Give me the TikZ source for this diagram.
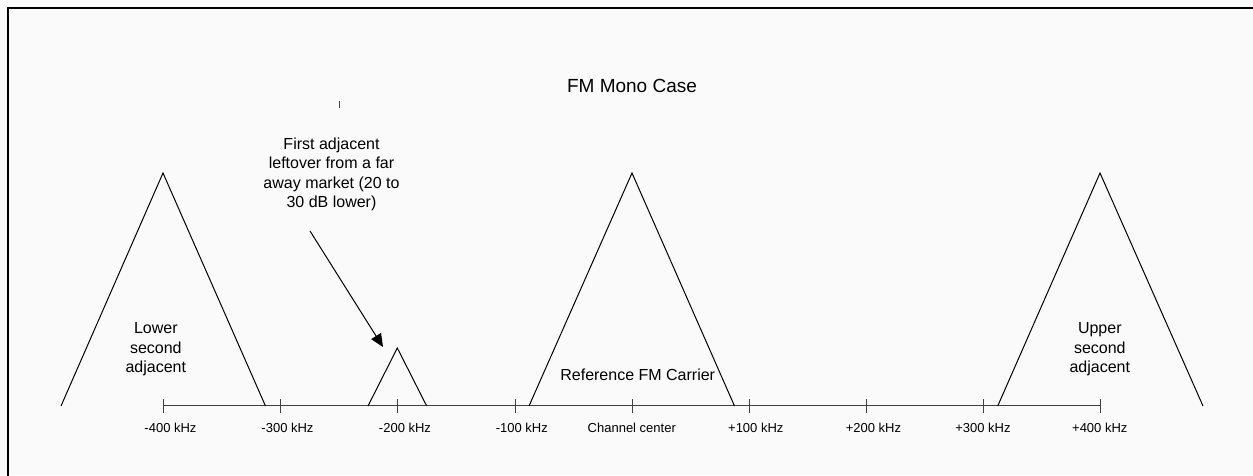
\documentclass[tikz,border=0pt]{standalone}
\usepackage{fontspec}
\setmainfont{Liberation Sans}
\usetikzlibrary{arrows.meta}
\definecolor{bg}{HTML}{FAFAFA}
\definecolor{axisc}{HTML}{404040}
\tikzset{
  ticklbl/.style={anchor=base, font=\fontsize{13}{15}\selectfont, inner sep=0pt},
  bodylbl/.style={anchor=base, font=\fontsize{16}{19.3}\selectfont, inner sep=0pt, align=center},
  titlelbl/.style={anchor=base, font=\fontsize{19}{22}\selectfont, inner sep=0pt},
  tri/.style={draw=black, line width=1pt, line join=miter},
  tickmark/.style={draw=axisc, line width=1pt},
  axisline/.style={draw=axisc, line width=1.2pt},
  pointer/.style={draw=black, line width=1pt, -{Triangle[length=13pt,width=11.5pt]}}
}
\begin{document}
\begin{tikzpicture}[x=1pt,y=-1pt]
\useasboundingbox (0,0) rectangle (1253,475);
\fill[bg] (0,0) rectangle (1253,475);
% frame (top and left edges visible)
\draw[line width=2pt] (8,480) -- (8,8) -- (1260,8);

% axis
\coordinate (a1) at (163,405.5);
\coordinate (a2) at (280.7,405.5);
\coordinate (a3) at (397.3,405.5);
\coordinate (a4) at (515,405.5);
\coordinate (a5) at (632,405.5);
\coordinate (a6) at (749,405.5);
\coordinate (a7) at (866,405.5);
\coordinate (a8) at (983.3,405.5);
\coordinate (a9) at (1100,405.5);
\draw[axisline] (a1) -- (a9);
\foreach \t in {a1,a2,a3,a4,a5,a6,a7,a8,a9}
  \draw[tickmark] ([yshift=6.5pt]\t) -- ([yshift=-7.5pt]\t);

% tick labels
\node[ticklbl] (l1) at (170.5,432) {-400 kHz};
\node[ticklbl] (l2) at (287.5,432) {-300 kHz};
\node[ticklbl] (l3) at (405,432) {-200 kHz};
\node[ticklbl] (l4) at (521.8,432) {-100 kHz};
\node[ticklbl] (l5) at (631.8,432) {Channel center};
\node[ticklbl] (l6) at (755.8,432) {+100 kHz};
\node[ticklbl] (l7) at (873.5,432) {+200 kHz};
\node[ticklbl] (l8) at (983,432) {+300 kHz};
\node[ticklbl] (l9) at (1099.8,432) {+400 kHz};

% spectra
\draw[tri] (61,406) -- (163,173) -- (265.5,406);
\draw[tri] (368,406) -- (397.3,348) -- (426.7,406);
\draw[tri] (529,406) -- (632,173) -- (734.5,406);
\draw[tri] (997.7,406) -- (1100,173) -- (1203,406);

% labels (base anchor = baseline of the last line)
\node[titlelbl] (title) at (632,92.3) {FM Mono Case};
\node[bodylbl] (lower) at (155.8,372.5) {Lower\\second\\adjacent};
\node[bodylbl] (upper) at (1099.8,372.5) {Upper\\second\\adjacent};
\node[bodylbl] (ref) at (637.7,380) {Reference FM Carrier};
\node[bodylbl] (first) at (331.5,207.5) {First adjacent\\leftover from a far\\away market (20 to\\30 dB lower)};

% stray mark
\draw[line width=1pt, black!70] (339,101) -- (339,107.5);

% pointer
\coordinate (pstart) at (310,231);
\coordinate (ptip) at (383,347);
\draw[pointer] (pstart) -- (ptip);
\end{tikzpicture}
\end{document}
